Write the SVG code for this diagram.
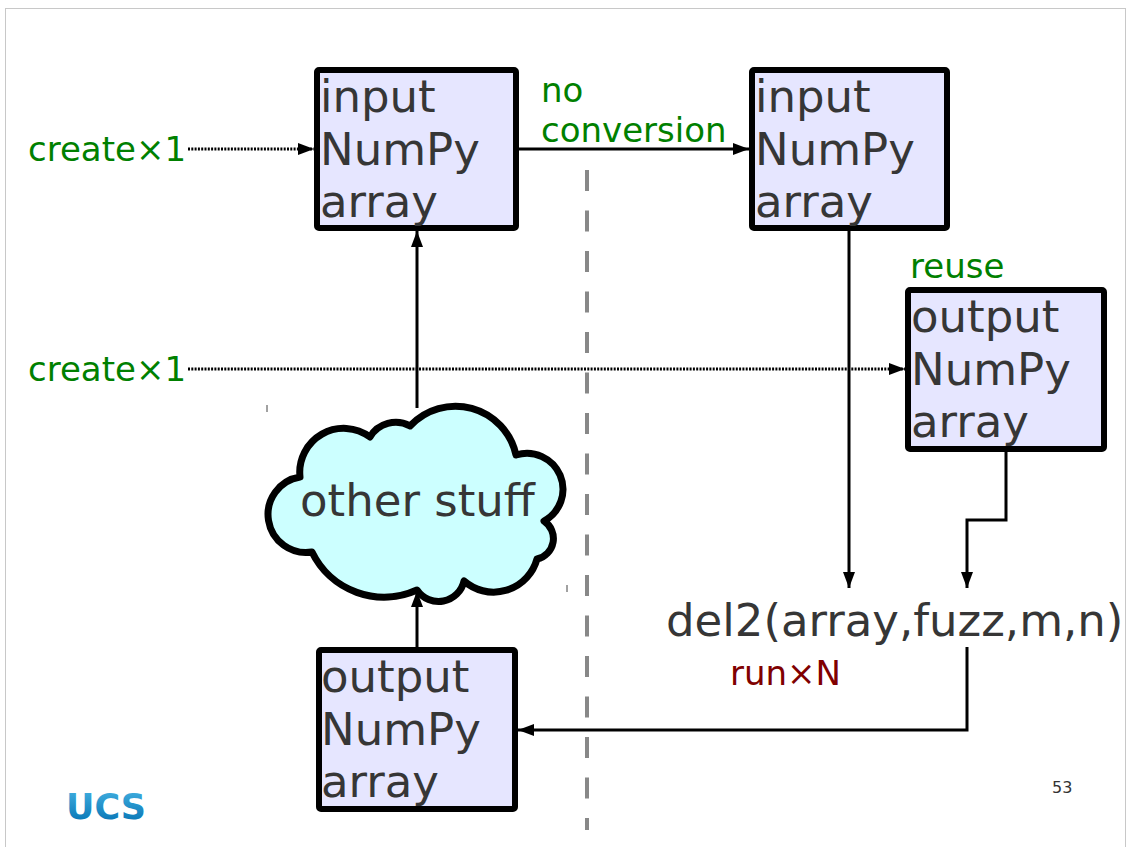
<svg xmlns="http://www.w3.org/2000/svg" width="1128" height="847" viewBox="0 0 1128 847">
<style>
.box{fill:#e6e6ff;stroke:#000;stroke-width:6;stroke-linejoin:round}
.bt{font-family:"DejaVu Sans",sans-serif;font-size:45px;fill:#363636}
.g{font-family:"DejaVu Sans",sans-serif;font-size:34px;fill:#008000}
.r{font-family:"DejaVu Sans",sans-serif;font-size:34px;fill:#800000}
.ln{fill:none;stroke:#000;stroke-width:3}
.dot{fill:none;stroke:#000;stroke-width:3;stroke-dasharray:2 1.3}
</style>
<defs>
<marker id="ah" markerUnits="userSpaceOnUse" markerWidth="16" markerHeight="12" viewBox="0 0 16 12" refX="16" refY="6" orient="auto">
<path d="M0,0 L16,6 L0,12 Z" fill="#000"/>
</marker>
<linearGradient id="ucs" x1="0" y1="0" x2="0" y2="1">
<stop offset="0" stop-color="#45b2e2"/>
<stop offset="1" stop-color="#006eb0"/>
</linearGradient>
</defs>
<rect x="5.5" y="8.5" width="1120" height="860" fill="#fff" stroke="#c8c8c8" stroke-width="1"/>
<line x1="587" y1="170" x2="587" y2="830" stroke="#888" stroke-width="4" stroke-dasharray="21 19.5"/>
<line x1="267" y1="405" x2="267" y2="412" stroke="#444" stroke-width="1"/>
<line x1="567" y1="585" x2="567" y2="592" stroke="#444" stroke-width="1"/>
<g id="connectors">
<path class="dot" d="M188,149 H314" marker-end="url(#ah)"/>
<path class="ln" d="M519,149 H749" marker-end="url(#ah)"/>
<path class="dot" d="M188,369 H905" marker-end="url(#ah)"/>
<path class="ln" d="M849,231 V588" marker-end="url(#ah)"/>
<path class="ln" d="M1006,452 V520 H967 V588" marker-end="url(#ah)"/>
<path class="ln" d="M967,647 V730 H518" marker-end="url(#ah)"/>
<path class="ln" d="M417,647 V591" marker-end="url(#ah)"/>
<path class="ln" d="M417,408 V231" marker-end="url(#ah)"/>
</g>
<g id="input1">
<rect class="box" x="317" y="70" width="199" height="158" rx="2"/>
<text class="bt" x="320" y="112">input</text>
<text class="bt" x="320" y="165">NumPy</text>
<text class="bt" x="320" y="217">array</text>
</g>
<g id="input2">
<rect class="box" x="752" y="70" width="195" height="158" rx="2"/>
<text class="bt" x="755" y="112">input</text>
<text class="bt" x="755" y="165">NumPy</text>
<text class="bt" x="755" y="217">array</text>
</g>
<g id="output2">
<rect class="box" x="908" y="290" width="196" height="159" rx="2"/>
<text class="bt" x="911" y="332">output</text>
<text class="bt" x="911" y="385">NumPy</text>
<text class="bt" x="911" y="437">array</text>
</g>
<g id="output1">
<rect class="box" x="319" y="650" width="196" height="159" rx="2"/>
<text class="bt" x="321" y="692">output</text>
<text class="bt" x="321" y="745">NumPy</text>
<text class="bt" x="321" y="797">array</text>
</g>
<g id="cloud">
<path d="M370,437 A30,30 0 0 1 410,426 A62,62 0 0 1 516,455 A36,36 0 0 1 544,521 A21,21 0 0 1 537,559 A45,45 0 0 1 464,581 A26,26 0 0 1 417,590 A80,80 0 0 1 312,552 A33,33 0 0 1 300,477 A44,44 0 0 1 370,437 Z" fill="#ccffff" stroke="#000" stroke-width="7" stroke-linejoin="round"/>
<text class="bt" x="300" y="516">other stuff</text>
</g>
<g id="del2">
<text class="bt" x="666" y="636">del2(array,fuzz,m,n)</text>
</g>
<g id="labels">
<text class="g" x="28" y="161">create×1</text>
<text class="g" x="28" y="381">create×1</text>
<text class="g" x="541" y="102">no</text>
<text class="g" x="541" y="142">conversion</text>
<text class="g" x="910" y="278">reuse</text>
<text class="r" x="730" y="685">run×N</text>
</g>
<text x="1052" y="793" font-family="DejaVu Sans,sans-serif" font-size="16" fill="#333">53</text>
<text x="66" y="819" font-family="DejaVu Sans,sans-serif" font-weight="bold" font-size="35" fill="url(#ucs)">UCS</text>
</svg>
